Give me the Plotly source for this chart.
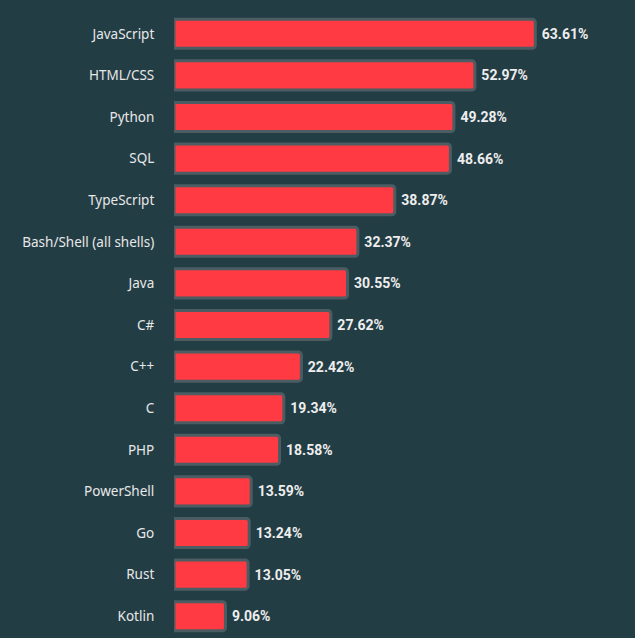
import plotly.graph_objects as go

languages = ["JavaScript", "HTML/CSS", "Python", "SQL", "TypeScript", "Bash/Shell (all shells)",
             "Java", "C#", "C++", "C", "PHP", "PowerShell", "Go", "Rust", "Kotlin"]
percent = [63.61, 52.97, 49.28, 48.66, 38.87, 32.37, 30.55, 27.62, 22.42, 19.34, 18.58,
           13.59, 13.24, 13.05, 9.06]

BG = "#233d45"

fig = go.Figure(go.Bar(
    x=percent, y=languages, orientation="h",
    marker=dict(color="#ff3a43", line=dict(color="#4b5d63", width=3), cornerradius=3),
    texttemplate=" %{x:.2f}%", textposition="outside", cliponaxis=False,
    textfont=dict(family="Roboto", size=14, color="#eeeeee", weight="bold"),
    hoverinfo="x+y",
))

fig.update_layout(
    width=635, height=638,
    paper_bgcolor=BG, plot_bgcolor=BG,
    margin=dict(l=174, r=0, t=13, b=1),
    bargap=0.30,
    showlegend=False,
    font=dict(family="Noto Sans", color="#e8e8e8", size=13),
)
fig.update_xaxes(range=[0, 81.16], visible=False, showgrid=False, zeroline=False)
fig.update_yaxes(autorange="reversed", showgrid=False, zeroline=False, showline=False,
                 ticks="outside", ticklen=16, tickcolor=BG,
                 tickfont=dict(family="Noto Sans", size=13.5, color="#e8e8e8"))

fig.write_html("out.html")
